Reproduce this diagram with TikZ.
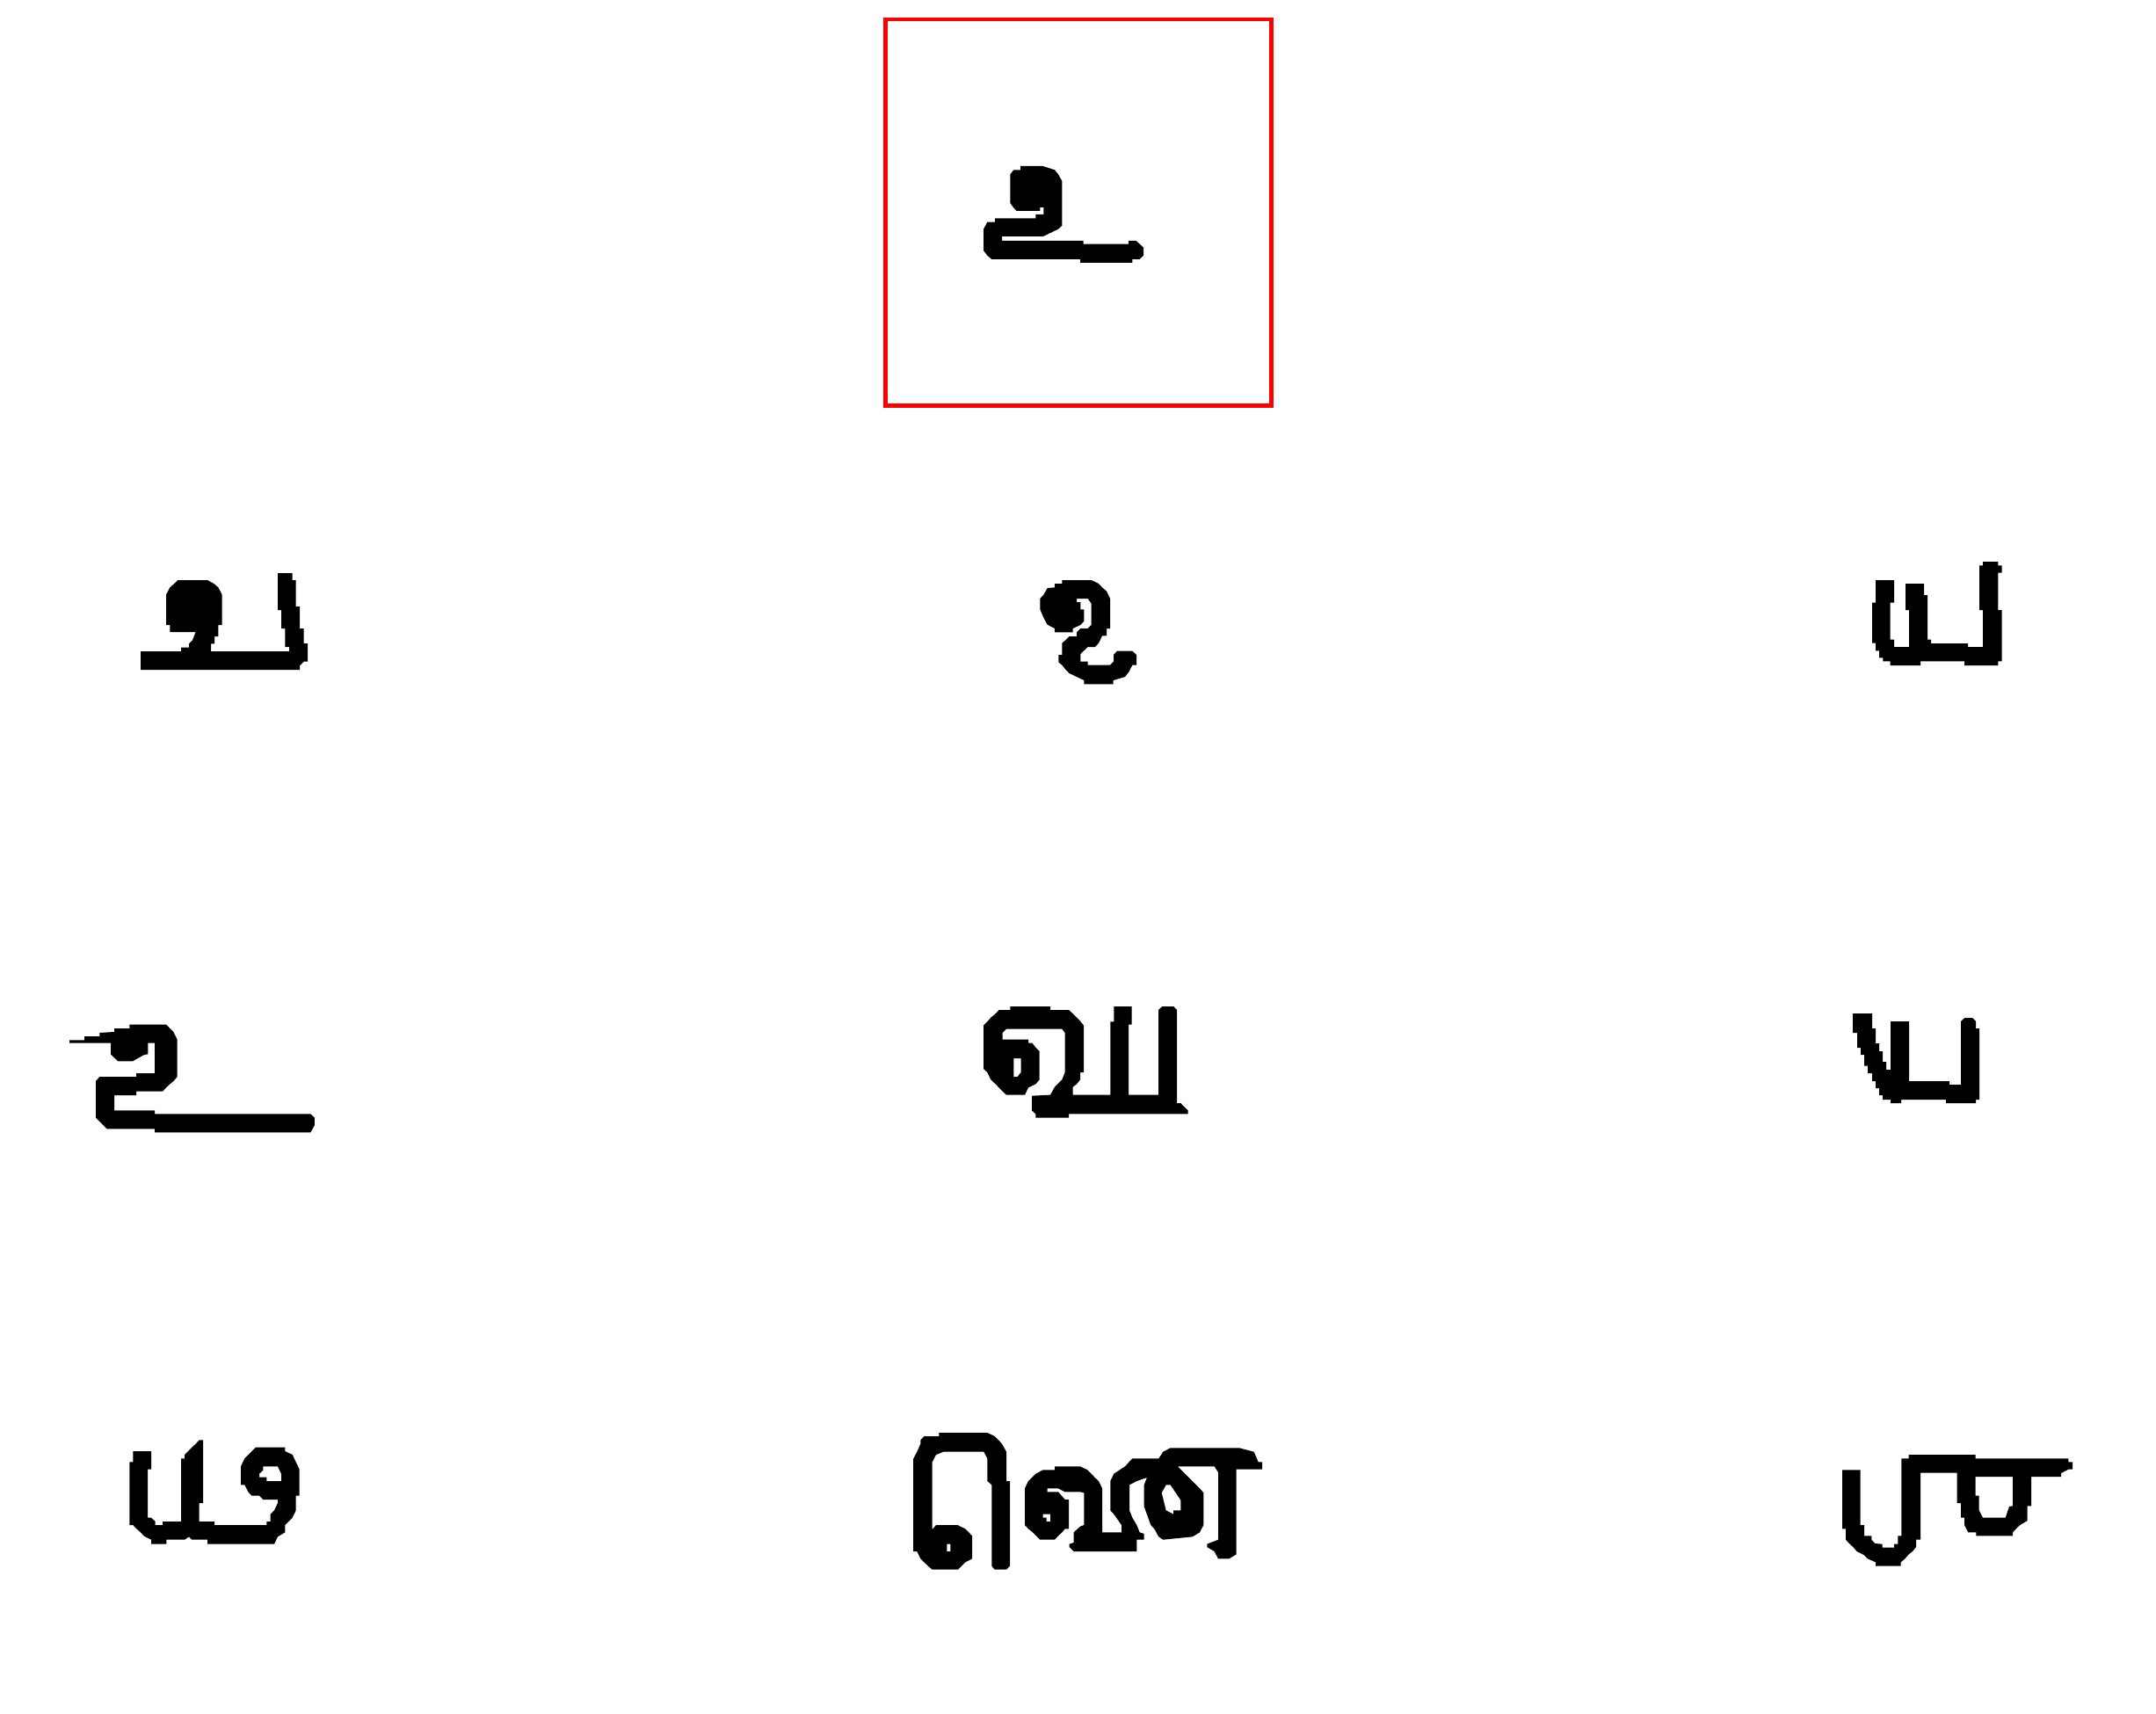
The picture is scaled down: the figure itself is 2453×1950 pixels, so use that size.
\documentclass[tikz,border=0pt]{standalone}
\tikzset{
  glyphink/.style={fill=black,even odd rule},
  cropunits/.style={x=0.33333pt,y=-0.33333pt},
  redframe/.style={draw=red,line width=4.7pt}
}
\begin{document}
\begin{tikzpicture}[x=1pt,y=-1pt]
\useasboundingbox (0,0) rectangle (2453,1950);
\fill[white] (0,0) rectangle (2453,1950);
\draw[redframe] (1007.5,22) rectangle (1446.5,461.5);
% top glyph
\begin{scope}[shift={(1090,170)},cropunits]
\fill[glyphink] (213,57)--(290,57)--(330,70)--(342,85)--(355,108)--(355,260)--(342,272)--(315,285)--(290,297)--(150,297)--(150,312)--(428,312)--(428,323)--(582,323)--(582,312)--(608,312)--(620,323)--(633,335)--(633,362)--(620,375)--(595,375)--(595,387)--(417,387)--(417,375)--(115,375)--(100,362)--(87,345)--(87,272)--(100,248)--(126,248)--(126,235)--(265,235)--(265,222)--(292,222)--(292,198)--(280,198)--(280,210)--(200,210)--(188,197)--(178,183)--(178,85)--(190,70)--(213,70)--cycle;
\end{scope}
% row 2 left
\begin{scope}[shift={(140,630)},cropunits]
\fill[glyphink] (60,333)--(198,333)--(198,320)--(225,320)--(225,307)--(237,295)--(248,267)--(160,267)--(160,243)--(147,243)--(147,140)--(160,115)--(175,102)--(187,90)--(288,90)--(310,102)--(325,115)--(338,140)--(338,243)--(325,243)--(325,282)--(312,282)--(312,307)--(300,307)--(300,333)--(567,333)--(567,318)--(553,318)--(553,255)--(540,255)--(540,192)--(528,192)--(528,66)--(578,66)--(578,90)--(590,90)--(590,180)--(603,180)--(603,255)--(617,255)--(617,306)--(630,306)--(630,368)--(617,368)--(603,382)--(603,396)--(60,396)--cycle;
\end{scope}
% row 2 middle
\begin{scope}[shift={(1160,640)},cropunits]
\fill[glyphink] (145,60)--(245,60)--(270,72)--(282,85)--(297,98)--(309,123)--(309,225)--(297,225)--(297,250)--(282,250)--(270,275)--(258,288)--(233,288)--(208,312)--(208,338)--(233,338)--(233,350)--(309,350)--(321,338)--(321,315)--(333,302)--(385,302)--(399,315)--(399,350)--(385,350)--(372,375)--(360,390)--(320,402)--(320,415)--(220,415)--(220,402)--(195,390)--(170,378)--(157,365)--(145,350)--(133,340)--(133,315)--(145,315)--(145,275)--(157,265)--(170,252)--(195,252)--(195,238)--(208,225)--(233,225)--(245,213)--(245,140)--(233,123)--(195,123)--(195,135)--(208,135)--(208,160)--(220,160)--(220,200)--(208,213)--(182,225)--(182,238)--(120,238)--(120,225)--(95,212)--(82,188)--(70,160)--(70,123)--(82,110)--(95,87)--(120,85)--(120,72)--(145,72)--cycle;
\end{scope}
% row 2 right
\begin{scope}[shift={(2110,625)},cropunits]
\fill[glyphink] (438,42)--(490,42)--(490,55)--(503,55)--(503,80)--(490,80)--(490,207)--(503,207)--(503,382)--(490,382)--(490,396)--(375,396)--(375,382)--(225,382)--(225,396)--(122,396)--(122,382)--(97,382)--(97,370)--(84,370)--(84,346)--(72,346)--(72,320)--(60,320)--(60,182)--(72,182)--(72,105)--(135,105)--(135,182)--(122,182)--(122,308)--(135,308)--(135,333)--(186,333)--(186,207)--(174,207)--(174,117)--(237,117)--(237,156)--(249,156)--(249,308)--(261,308)--(261,321)--(387,321)--(387,333)--(438,333)--(438,207)--(426,207)--(426,55)--(438,55)--cycle;
\end{scope}
% row 3 left
\begin{scope}[shift={(70,1150)},cropunits]
\fill[glyphink] (27,100)--(78,100)--(78,87)--(130,87)--(130,75)--(180,72)--(180,60)--(232,60)--(232,47)--(357,47)--(370,60)--(382,72)--(395,98)--(395,225)--(382,240)--(370,250)--(357,262)--(345,275)--(255,275)--(255,288)--(180,288)--(180,340)--(318,340)--(318,352)--(850,352)--(864,365)--(864,390)--(850,415)--(318,415)--(318,403)--(155,403)--(142,390)--(130,378)--(117,365)--(117,240)--(130,225)--(255,225)--(255,213)--(318,213)--(318,110)--(295,110)--(295,148)--(282,150)--(255,165)--(243,172)--(193,172)--(180,160)--(168,148)--(168,110)--(27,110)--cycle;
\end{scope}
% row 3 middle
\begin{scope}[shift={(1110,1130)},cropunits]
\fill[glyphink] (118,45)--(255,45)--(255,57)--(318,57)--(332,70)--(345,83)--(357,95)--(369,110)--(369,270)--(357,270)--(357,295)--(345,310)--(332,320)--(332,347)--(460,347)--(460,97)--(472,97)--(472,45)--(533,45)--(533,107)--(522,107)--(522,347)--(624,347)--(624,57)--(637,45)--(675,45)--(687,57)--(687,375)--(700,375)--(712,388)--(725,400)--(725,412)--(318,412)--(318,425)--(205,425)--(205,412)--(192,400)--(192,350)--(255,347)--(270,320)--(295,295)--(305,270)--(305,135)--(295,122)--(105,122)--(92,135)--(92,158)--(180,158)--(180,170)--(193,170)--(205,185)--(218,198)--(218,295)--(205,310)--(180,322)--(168,347)--(105,347)--(92,335)--(68,310)--(52,295)--(40,270)--(27,258)--(27,110)--(40,97)--(52,83)--(68,70)--(80,57)--(118,57)--cycle
 (130,222)--(155,222)--(155,270)--(143,285)--(130,285)--cycle;
\end{scope}
% row 3 right
\begin{scope}[shift={(2090,1140)},cropunits]
\fill[glyphink] (54,39)--(120,39)--(120,90)--(132,90)--(132,141)--(144,141)--(144,168)--(156,168)--(156,204)--(168,204)--(168,231)--(183,231)--(183,66)--(246,66)--(246,270)--(384,270)--(384,282)--(423,282)--(423,66)--(436,54)--(462,54)--(474,66)--(474,90)--(486,90)--(486,333)--(474,333)--(474,345)--(372,345)--(372,333)--(219,333)--(219,345)--(183,345)--(183,333)--(156,333)--(156,318)--(144,318)--(144,294)--(132,294)--(132,270)--(120,270)--(120,243)--(105,243)--(105,218)--(93,218)--(93,180)--(81,180)--(81,156)--(69,156)--(69,105)--(54,105)--cycle;
\end{scope}
% row 4 left
\begin{scope}[shift={(130,1630)},cropunits]
\fill[glyphink] (64,63)--(126,63)--(126,125)--(114,125)--(114,290)--(126,290)--(140,303)--(140,315)--(165,315)--(165,303)--(228,303)--(228,88)--(240,88)--(240,75)--(265,50)--(278,38)--(290,25)--(303,25)--(303,240)--(290,240)--(290,303)--(342,303)--(342,315)--(520,315)--(520,303)--(533,303)--(533,278)--(546,265)--(558,240)--(558,228)--(508,228)--(495,215)--(470,215)--(458,203)--(445,178)--(432,178)--(432,115)--(445,88)--(458,75)--(470,63)--(483,50)--(583,50)--(583,63)--(608,75)--(620,100)--(632,125)--(632,215)--(620,215)--(620,265)--(608,290)--(583,315)--(583,340)--(558,355)--(546,380)--(318,380)--(318,365)--(265,365)--(255,355)--(240,365)--(178,365)--(178,380)--(126,380)--(126,365)--(102,353)--(90,340)--(75,327)--(64,315)--(52,315)--(52,100)--(64,100)--cycle
 (508,115)--(558,115)--(570,140)--(570,165)--(520,165)--(520,152)--(495,152)--(495,140)--(508,128)--cycle;
\end{scope}
% row 4 middle
\begin{scope}[shift={(1030,1620)},cropunits]
\fill[glyphink] (115,30)--(280,30)--(305,42)--(318,55)--(330,68)--(345,95)--(345,195)--(357,195)--(357,485)--(345,497)--(305,497)--(295,485)--(295,208)--(280,195)--(280,118)--(268,95)--(130,95)--(105,105)--(92,130)--(92,360)--(105,345)--(178,345)--(205,358)--(228,382)--(228,460)--(205,472)--(180,497)--(92,497)--(78,485)--(52,460)--(40,435)--(27,435)--(27,120)--(40,95)--(52,68)--(52,55)--(65,42)--(115,42)--cycle
 (142,410)--(154,410)--(154,435)--(142,435)--cycle;
\fill[glyphink] (510,145)--(597,145)--(622,157)--(635,170)--(647,183)--(660,195)--(672,220)--(672,370)--(738,370)--(738,345)--(712,308)--(700,295)--(700,195)--(712,170)--(750,145)--(775,118)--(865,118)--(880,95)--(905,82)--(1140,82)--(1190,95)--(1205,130)--(1218,130)--(1218,155)--(1130,155)--(1130,445)--(1105,460)--(1068,460)--(1055,435)--(1030,420)--(1030,410)--(1068,395)--(1068,165)--(1055,145)--(930,145)--(955,170)--(980,195)--(1005,220)--(1018,235)--(1018,345)--(1005,370)--(980,385)--(880,395)--(865,385)--(850,358)--(838,345)--(815,282)--(815,208)--(825,183)--(790,195)--(765,208)--(765,295)--(775,320)--(790,345)--(800,370)--(815,375)--(815,395)--(790,395)--(790,435)--(575,435)--(560,420)--(560,410)--(575,405)--(575,370)--(597,350)--(610,345)--(610,235)--(597,232)--(545,232)--(522,220)--(485,220)--(485,232)--(522,232)--(545,258)--(558,258)--(558,358)--(545,358)--(535,370)--(522,382)--(510,395)--(460,395)--(435,370)--(420,358)--(408,345)--(408,220)--(420,195)--(445,170)--(470,157)--(510,157)--cycle
 (890,208)--(905,208)--(940,260)--(940,295)--(915,295)--(915,308)--(890,295)--(875,235)--cycle
 (470,308)--(495,308)--(495,333)--(482,333)--(482,320)--(470,320)--cycle;
\end{scope}
% row 4 right
\begin{scope}[shift={(2080,1640)},cropunits]
\fill[glyphink] (275,45)--(503,45)--(503,58)--(820,58)--(820,70)--(834,70)--(834,95)--(820,95)--(795,108)--(795,120)--(693,120)--(693,220)--(680,220)--(680,270)--(655,285)--(642,297)--(630,310)--(630,322)--(505,322)--(505,310)--(478,310)--(465,285)--(465,260)--(453,260)--(453,210)--(440,210)--(440,107)--(315,107)--(315,335)--(300,335)--(300,360)--(288,375)--(275,385)--(262,400)--(248,412)--(248,425)--(162,425)--(162,412)--(135,400)--(122,387)--(98,375)--(85,360)--(72,348)--(60,335)--(60,298)--(48,298)--(48,97)--(110,97)--(110,285)--(123,285)--(123,322)--(148,322)--(148,335)--(160,348)--(185,350)--(185,362)--(225,362)--(225,350)--(238,350)--(238,322)--(250,322)--(250,58)--(275,58)--cycle
 (503,120)--(630,120)--(630,220)--(618,222)--(605,260)--(528,260)--(515,235)--(515,185)--(503,185)--cycle;
\end{scope}
\end{tikzpicture}
\end{document}
